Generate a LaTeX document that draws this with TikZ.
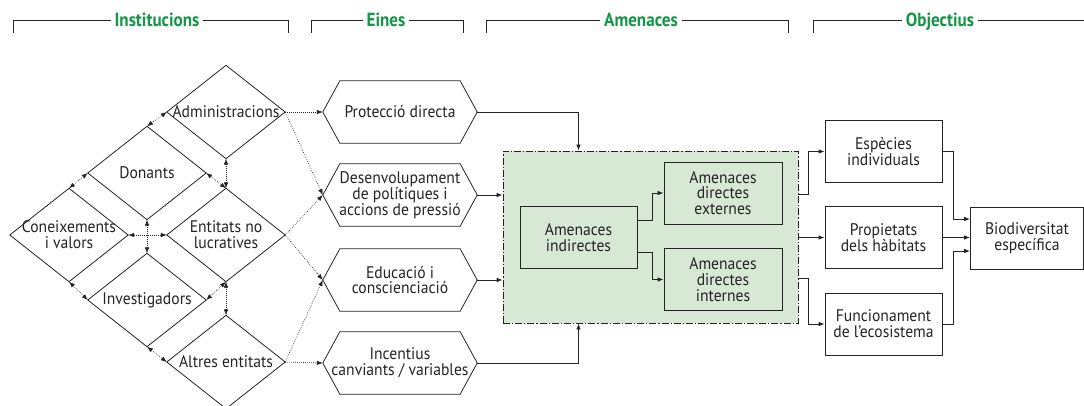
\documentclass[tikz,border=0pt]{standalone}
\usepackage{fontspec}
\setmainfont{PT Sans}[FakeStretch=0.93]
\newfontfamily\headfont{PT Sans}[FakeStretch=0.9]
\usetikzlibrary{arrows.meta}
\definecolor{hgreen}{RGB}{20,150,70}
\definecolor{boxgreen}{RGB}{215,232,213}
\definecolor{lin}{RGB}{35,35,35}
\begin{document}
\begin{tikzpicture}[x=1pt,y=-1pt,
  every node/.style={font=\fontsize{16.8}{15.8}\selectfont, align=center, text=lin},
  dia/.style={minimum width=118pt, minimum height=93pt, inner sep=0pt},
  hex/.style={minimum width=154pt, minimum height=62pt, inner sep=0pt},
  box/.style={draw=lin, line width=0.8pt, minimum width=117pt, minimum height=62pt, inner sep=0pt},
  shp/.style={draw=lin, line width=0.8pt},
  dar/.style={draw=lin, line width=0.6pt, dash pattern=on 0.7pt off 1.3pt, {Latex[length=6pt,width=4.5pt]}-{Latex[length=6pt,width=4.5pt]}},
  sar/.style={draw=lin, line width=0.6pt, dash pattern=on 0.7pt off 1.3pt, -{Latex[length=6pt,width=4.5pt]}},
  arr/.style={draw=lin, line width=0.8pt, -{Latex[length=6pt,width=4.5pt]}},
  head/.style={font=\headfont\fontsize{19}{20}\selectfont\bfseries, text=hgreen, fill=white, inner sep=4pt, anchor=base},
  brk/.style={line width=0.8pt, draw=lin}
]
\useasboundingbox (0,0) rectangle (1084,406);

% headers
\draw[brk] (13,33) -- (13,20) -- (288,20) -- (288,33);
\node[head] (hi) at (157,26.5) {Institucions};
\draw[brk] (311,33) -- (311,20) -- (463,20) -- (463,33);
\node[head] (he) at (386,26.5) {Eines};
\draw[brk] (486,33) -- (486,20) -- (788,20) -- (788,33);
\node[head] (ha) at (641,26.5) {Amenaces};
\draw[brk] (813,33) -- (813,20) -- (1084,20);
\node[head] (ho) at (940,26.5) {Objectius};

% diamonds
\node[dia] (adm) at (226,112) {Administracions};
\node[dia] (don) at (147,173) {Donants};
\node[dia] (con) at (69,235) {Coneixements\\i valors};
\node[dia] (ent) at (226,235) {Entitats no\\lucratives};
\node[dia] (inv) at (147,300) {Investigadors};
\node[dia] (alt) at (226,362) {Altres entitats};
\foreach \n in {adm,don,con,ent,inv,alt}
  \draw[shp] (\n.west) -- (\n.north) -- (\n.east) -- (\n.south) -- cycle;

\draw[dar] (don.north) -- (adm.west);
\draw[dar] (con.north) -- (don.west);
\draw[dar] (don.east) -- (ent.north);
\draw[dar] (adm.south) -- (ent.north);
\draw[dar] (don.south) -- (inv.north);
\draw[dar] (con.east) -- (ent.west);
\draw[dar] (con.south) -- (inv.west);
\draw[dar] (inv.east) -- (ent.south);
\draw[dar] (ent.south) -- (alt.north);
\draw[dar] (inv.south) -- (alt.west);

% hexagons
\node[hex] (pro) at (400,112) {Protecció directa};
\node[hex] (des) at (400,195) {Desenvolupament\\de polítiques i\\accions de pressió};
\node[hex] (edu) at (400,280) {Educació i\\conscienciació};
\node[hex] (inc) at (400,363) {Incentius\\canviants / variables};
\foreach \n in {pro,des,edu,inc}
  \draw[shp] (\n.west) -- ([xshift=17pt]\n.north west) -- ([xshift=-17pt]\n.north east)
    -- (\n.east) -- ([xshift=-17pt]\n.south east) -- ([xshift=17pt]\n.south west) -- cycle;

\draw[sar] (adm.east) -- (pro.west);
\draw[sar] (adm.east) -- (des.west);
\draw[sar] (ent.east) -- (des.west);
\draw[sar] (ent.east) -- (edu.west);
\draw[sar] (alt.east) -- (edu.west);
\draw[sar] (alt.east) -- (inc.west);

% threats box
\node[draw=lin, line width=0.8pt, fill=boxgreen, dash pattern=on 7pt off 2pt on 1.2pt off 2pt,
      minimum width=295pt, minimum height=172pt] (thr) at (650.5,237) {};
\node[box] (ind) at (578.5,237.5) {Amenaces\\indirectes};
\node[box, minimum width=118pt] (ext) at (723,193) {Amenaces\\directes\\externes};
\node[box, minimum width=118pt] (int) at (723,279.5) {Amenaces\\directes\\internes};
\draw[arr] ([yshift=17.5pt]ind.east) -- ++(15,0) |- (ext.west);
\draw[arr] ([yshift=-14.5pt]ind.east) -- ++(15,0) |- (int.west);

\draw[arr] (pro.east) -| (ind.north |- thr.north);
\draw[arr] (inc.east) -| (ind.south |- thr.south);
\draw[arr] (des.east) -- (des.east -| thr.west);
\draw[arr] (edu.east) -- (edu.east -| thr.west);

% objectives
\node[box] (esp) at (883.5,151.5) {Espècies\\individuals};
\node[box] (prop) at (883.5,237.5) {Propietats\\dels hàbitats};
\node[box] (fun) at (883.5,324) {Funcionament\\de l'ecosistema};
\node[box, minimum width=113pt] (bio) at (1027,238) {Biodiversitat\\específica};

\draw[arr] ([yshift=43pt]thr.east) -- ++(10,0) |- (esp.west);
\draw[arr] (thr.east |- prop.west) -- (prop.west);
\draw[arr] ([yshift=-41pt]thr.east) -- ++(10,0) |- (fun.west);

\draw[arr] (esp.east) -- ++(11,0) |- ([yshift=19pt]bio.west);
\draw[arr] (prop.east) -- (prop.east -| bio.west);
\draw[arr] (fun.east) -- ++(11,0) |- ([yshift=-13pt]bio.west);
\end{tikzpicture}
\end{document}
